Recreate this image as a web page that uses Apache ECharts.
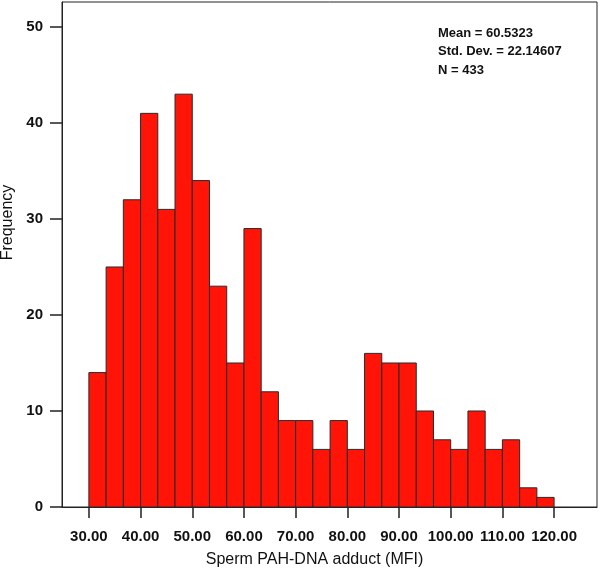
<!DOCTYPE html>
<html>
<head>
<meta charset="utf-8">
<script src="https://cdn.jsdelivr.net/npm/echarts@6/dist/echarts.min.js"></script>
<style>
  html, body { margin: 0; padding: 0; background: #fff; }
  #chart { width: 600px; height: 573px; }
</style>
</head>
<body>
<div id="chart"></div>
<script>
// histogram bins: 27 bins from 30 to 120
var binStart = 30
var binWidth = 90 / 27
var counts = [14, 25, 32, 41, 31, 43, 34, 23, 15, 29, 12, 9, 9, 6, 9, 6, 16, 15, 15, 10, 7, 6, 10, 6, 7, 2, 1]
var xTicks = [30, 40, 50, 60, 70, 80, 90, 100, 110, 120]
var yTicks = [0, 10, 20, 30, 40, 50]
var statsText = ['Mean = 60.5323', 'Std. Dev. = 22.14607', 'N = 433']

var bins = counts.map(function (c, i) {
  var lo = binStart + i * binWidth
  return [lo, lo + binWidth, c]
})

var myChart = echarts.init(document.getElementById('chart'))
var font = 'Liberation Sans, Arial, sans-serif'

myChart.setOption({
  animation: false,
  grid: {
    left: 62, right: 3, top: 2, bottom: 66,
    outerBoundsMode: 'none',
    containLabel: false,
    show: true, borderColor: '#222', borderWidth: 1
  },
  xAxis: {
    type: 'value',
    min: 24.8,
    max: 128.3,
    name: 'Sperm PAH-DNA adduct (MFI)',
    nameLocation: 'middle',
    nameGap: 45,
    nameTextStyle: { fontFamily: font, fontSize: 16, color: '#111', padding: [0, 30, 0, 0] },
    splitLine: { show: false },
    axisLine: { lineStyle: { color: '#222' } },
    axisTick: { customValues: xTicks, length: 11, lineStyle: { color: '#222', width: 1.5 } },
    axisLabel: {
      customValues: xTicks,
      margin: 22,
      fontFamily: font, fontSize: 15, fontWeight: 'bold', color: '#111',
      formatter: function (v) { return v.toFixed(2) }
    }
  },
  yAxis: {
    type: 'value',
    min: 0,
    max: 52.6,
    name: 'Frequency',
    nameLocation: 'middle',
    nameGap: 42,
    nameTextStyle: { fontFamily: font, fontSize: 16, color: '#111', padding: [0, 0, 0, 64] },
    splitLine: { show: false },
    axisLine: { show: true, lineStyle: { color: '#222' } },
    axisTick: { show: true, customValues: yTicks, length: 12, lineStyle: { color: '#222', width: 1.5 } },
    axisLabel: {
      customValues: yTicks,
      margin: 19,
      fontFamily: font, fontSize: 15, fontWeight: 'bold', color: '#111'
    }
  },
  graphic: [{
    type: 'text',
    left: 438,
    top: 24,
    style: {
      text: statsText.join('\n'),
      fontFamily: font, fontSize: 13, fontWeight: 'bold', lineHeight: 18.5, fill: '#111'
    }
  }],
  series: [{
    type: 'custom',
    data: bins,
    encode: { x: [0, 1], y: 2 },
    renderItem: function (params, api) {
      var p0 = api.coord([api.value(0), 0])
      var p1 = api.coord([api.value(1), api.value(2)])
      return {
        type: 'rect',
        shape: { x: p0[0], y: p1[1], width: p1[0] - p0[0], height: p0[1] - p1[1] },
        style: { fill: '#ff1407', stroke: '#2a2a2a', lineWidth: 1 }
      }
    }
  }]
})
</script>
</body>
</html>
